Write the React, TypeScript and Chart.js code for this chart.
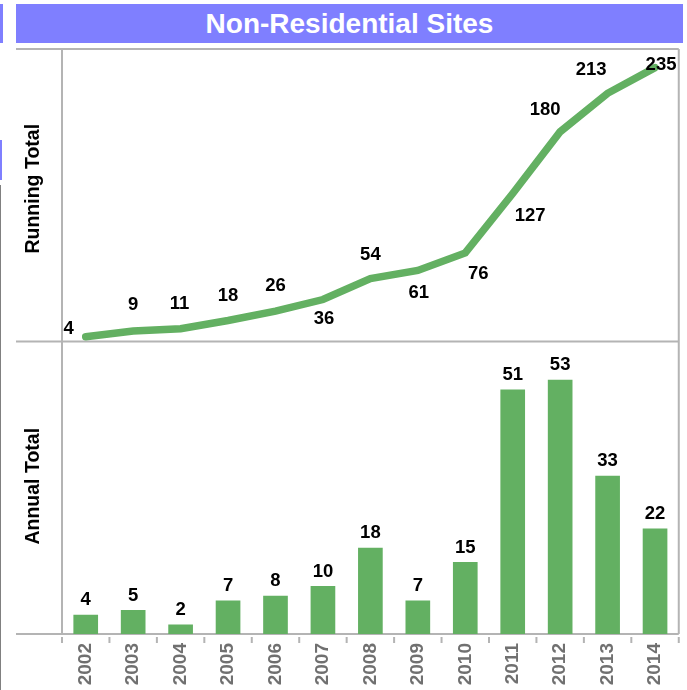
import React, { useEffect, useRef } from 'react';
import { Chart, registerables } from 'chart.js';

Chart.register(...registerables);

const years = ['2002', '2003', '2004', '2005', '2006', '2007', '2008', '2009', '2010', '2011', '2012', '2013', '2014'];
const runningTotal = [4, 9, 11, 18, 26, 36, 54, 61, 76, 127, 180, 213, 235];
const annualTotal = [4, 5, 2, 7, 8, 10, 18, 7, 15, 51, 53, 33, 22];
const lineLabelOffsets: [number, number][] = [
  [-17, -8], [0, -26], [-1, -25], [0, -25], [0, -25], [1, 19.5], [0, -24],
  [1, 22], [13, 21], [17.5, 22], [-15, -22], [-16.5, -23], [6, -3],
];
const titleText = 'Non-Residential Sites';
const lineAxisTitle = 'Running Total';
const barAxisTitle = 'Annual Total';

const GREEN = '#63b062';
const FRAME = '#b4b4b4';
const FONT = "'Liberation Sans', Arial, Helvetica, sans-serif";

const framePlugin = {
  id: 'frameAndLabels',
  beforeDatasetsDraw(chart: any) {
    const { ctx, chartArea } = chart;
    const yLine = chart.scales.yLine;
    const left = chartArea.left;
    const right = chartArea.right;
    const top = chartArea.top;
    const bottom = chartArea.bottom;
    const sep = yLine.bottom;
    const outerLeft = 16;
    ctx.save();
    ctx.strokeStyle = FRAME;
    ctx.lineWidth = 2;
    ctx.beginPath();
    ctx.moveTo(outerLeft, top); ctx.lineTo(right, top);
    ctx.moveTo(outerLeft, sep); ctx.lineTo(right, sep);
    ctx.moveTo(outerLeft, bottom); ctx.lineTo(right, bottom);
    ctx.moveTo(left, top); ctx.lineTo(left, bottom);
    ctx.moveTo(right, top); ctx.lineTo(right, bottom);
    const n = years.length;
    for (let i = 0; i <= n; i++) {
      const x = left + (i * (right - left)) / n;
      ctx.moveTo(x, bottom + 3); ctx.lineTo(x, bottom + 9);
    }
    ctx.stroke();

    // axis titles
    const yBar = chart.scales.yBar;
    ctx.fillStyle = '#000';
    ctx.font = `bold 19.5px ${FONT}`;
    ctx.textAlign = 'center';
    ctx.textBaseline = 'middle';
    const drawV = (text: string, cy: number) => {
      ctx.save();
      ctx.translate(33.5, cy);
      ctx.rotate(-Math.PI / 2);
      ctx.fillText(text, 0, 0);
      ctx.restore();
    };
    drawV(lineAxisTitle, (yLine.top + yLine.bottom) / 2 - 6.5);
    drawV(barAxisTitle, (yBar.top + yBar.bottom) / 2 - 1.5);
    ctx.restore();
  },
  afterDatasetsDraw(chart: any) {
    const { ctx } = chart;
    ctx.save();
    ctx.fillStyle = '#000';
    ctx.font = `bold 18.5px ${FONT}`;
    ctx.textAlign = 'center';
    const lineMeta = chart.getDatasetMeta(0);
    ctx.textBaseline = 'middle';
    lineMeta.data.forEach((pt: any, i: number) => {
      const [dx, dy] = lineLabelOffsets[i];
      ctx.fillText(String(runningTotal[i]), pt.x + dx, pt.y + dy);
    });
    const barMeta = chart.getDatasetMeta(1);
    ctx.textBaseline = 'alphabetic';
    barMeta.data.forEach((bar: any, i: number) => {
      ctx.fillText(String(annualTotal[i]), bar.x, bar.y - 9.5);
    });
    ctx.restore();
  },
};

export default function App() {
  const canvasRef = useRef<HTMLCanvasElement | null>(null);

  useEffect(() => {
    const canvas = canvasRef.current;
    if (!canvas) return;
    const chart = new Chart(canvas, {
      type: 'bar',
      data: {
        labels: years,
        datasets: [
          {
            type: 'line',
            label: lineAxisTitle,
            data: runningTotal,
            yAxisID: 'yLine',
            borderColor: GREEN,
            backgroundColor: GREEN,
            borderWidth: 7.5,
            borderCapStyle: 'round',
            borderJoinStyle: 'miter',
            pointRadius: 0,
            tension: 0,
            fill: false,
          } as any,
          {
            type: 'bar',
            label: barAxisTitle,
            data: annualTotal,
            yAxisID: 'yBar',
            backgroundColor: GREEN,
            borderWidth: 0,
            barPercentage: 0.52,
            categoryPercentage: 1,
          } as any,
        ],
      },
      options: {
        animation: false,
        responsive: false,
        devicePixelRatio: 1,
        layout: { padding: { top: 49, right: 4, left: 0, bottom: 0 } },
        plugins: {
          legend: { display: false },
          tooltip: { enabled: false },
          title: { display: false },
        },
        scales: {
          x: {
            offset: true,
            grid: { display: false, drawTicks: false },
            border: { display: false },
            ticks: {
              minRotation: 90,
              maxRotation: 90,
              padding: 9,
              color: '#707070',
              font: { family: FONT, size: 19, weight: 'bold' },
            },
            afterFit: (scale: any) => { scale.height = 56; },
          },
          yBar: {
            type: 'linear',
            position: 'left',
            stack: 'panels',
            stackWeight: 1,
            min: 0,
            max: 61,
            grid: { display: false },
            border: { display: false },
            ticks: { display: false },
            afterFit: (scale: any) => { scale.width = 62; },
          },
          yLine: {
            type: 'linear',
            position: 'left',
            stack: 'panels',
            stackWeight: 1,
            min: 0,
            max: 251,
            grid: { display: false },
            border: { display: false },
            ticks: { display: false },
            afterFit: (scale: any) => { scale.width = 62; },
          },
        } as any,
      },
      plugins: [framePlugin],
    });
    return () => chart.destroy();
  }, []);

  return (
    <div style={{ position: 'absolute', left: 0, top: 0, width: 687, height: 690, background: '#fff', overflow: 'hidden' }}>
      <div style={{ position: 'absolute', left: 0, top: 4, width: 3, height: 39, background: '#7f7fff' }} />
      <div style={{ position: 'absolute', left: 0, top: 140, width: 2, height: 40, background: '#7f7fff' }} />
      <div style={{ position: 'absolute', left: 0, top: 185, width: 1, height: 505, background: '#808080' }} />
      <div
        style={{
          position: 'absolute', left: 16, top: 4, width: 667, height: 39,
          background: '#7f7fff', color: '#fff', fontFamily: FONT, fontWeight: 'bold',
          fontSize: 28, lineHeight: '39px', textAlign: 'center',
        }}
      >
        {titleText}
      </div>
      <canvas ref={canvasRef} width={687} height={690} style={{ position: 'absolute', left: 0, top: 0, width: 687, height: 690 }} />
    </div>
  );
}
